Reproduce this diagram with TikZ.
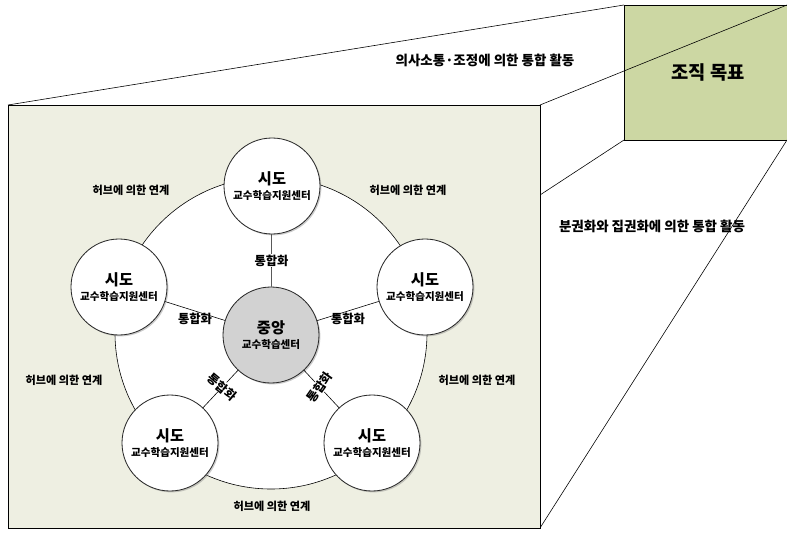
\documentclass[tikz,border=0pt]{standalone}
\usepackage{fontspec}
\setmainfont{Noto Sans CJK KR}
\usetikzlibrary{shadows}

\definecolor{facecol}{RGB}{238,239,226}
\definecolor{goalcol}{RGB}{204,215,163}
\definecolor{hubcol}{RGB}{210,210,210}

\tikzset{
  sido/.style={circle, draw=black!85, line width=0.7pt, fill=white, minimum size=2.88cm,
    inner sep=0pt, align=center, drop shadow={shadow xshift=1.2pt, shadow yshift=-1.2pt, opacity=0.4}},
  hublabel/.style={font=\bfseries\fontsize{9.5}{11}\selectfont},
  mergelabel/.style={font=\bfseries\fontsize{10.5}{12}\selectfont, inner sep=0.5pt},
  bigtext/.style={font=\bfseries\fontsize{11.5}{13}\selectfont},
}
\newcommand{\sidotext}[2]{{\bfseries\fontsize{13}{15}\selectfont #1}\\[1pt]{\bfseries\fontsize{9}{10}\selectfont #2}}

\begin{document}
\begin{tikzpicture}[x=0.03cm, y=-0.03cm, line width=0.5pt]
\clip (0,0) rectangle (787,537);

% back face and perspective lines
\coordinate (ftl) at (8,105);
\coordinate (ftr) at (540,105);
\coordinate (fmr) at (540,195);
\coordinate (fbr) at (540,528);
\coordinate (gtl) at (624,5);
\coordinate (gtr) at (787,5);
\coordinate (gbl) at (624,140);
\coordinate (gbr) at (787,140);
\draw [fill=goalcol] (gtl) rectangle (795,140);
\node (goal) at (708,72) [font=\bfseries\fontsize{16}{18}\selectfont] {조직 목표};
\draw (ftl) -- (gtl);
\draw (ftr) -- (gtr);
\draw (fmr) -- (gbl);
\draw (fbr) -- (gbr);

% front face
\draw [fill=facecol] (ftl) rectangle (fbr);
\node (comm) at (485,60) [bigtext] {의사소통·조정에 의한 통합 활동};
\node (dec) at (652,226) [bigtext] {분권화와 집권화에 의한 통합 활동};

% hub circle
\coordinate (mid) at (271,333);
\draw [fill=white] (mid) circle [radius=156];

\node (top) at (272,186) [sido] {\sidotext{시도}{교수학습지원센터}};
\node (left) at (119,287) [sido] {\sidotext{시도}{교수학습지원센터}};
\node (right) at (425,287) [sido] {\sidotext{시도}{교수학습지원센터}};
\node (bl) at (170,443) [sido] {\sidotext{시도}{교수학습지원센터}};
\node (br) at (372,443) [sido] {\sidotext{시도}{교수학습지원센터}};
\node (ctr) at (271,335) [sido, fill=hubcol] {\sidotext{중앙}{교수학습센터}};

\draw (ctr) -- (top) node [midway, mergelabel, fill=white] {통합화};
\draw (ctr) -- (left) node [midway, mergelabel, below=1pt] {통합화};
\draw (ctr) -- (right) node [midway, mergelabel, below=1pt] {통합화};
\draw (ctr) -- (bl) node [pos=0.45, mergelabel, fill=white, rotate=-40] {통합화};
\draw (ctr) -- (br) node [pos=0.45, mergelabel, fill=white, rotate=55] {통합화};

\node (h1) at (131,190) [hublabel] {허브에 의한 연계};
\node (h2) at (408,190) [hublabel] {허브에 의한 연계};
\node (h3) at (64,380) [hublabel] {허브에 의한 연계};
\node (h4) at (477,380) [hublabel] {허브에 의한 연계};
\node (h5) at (272,506) [hublabel] {허브에 의한 연계};
\end{tikzpicture}
\end{document}
